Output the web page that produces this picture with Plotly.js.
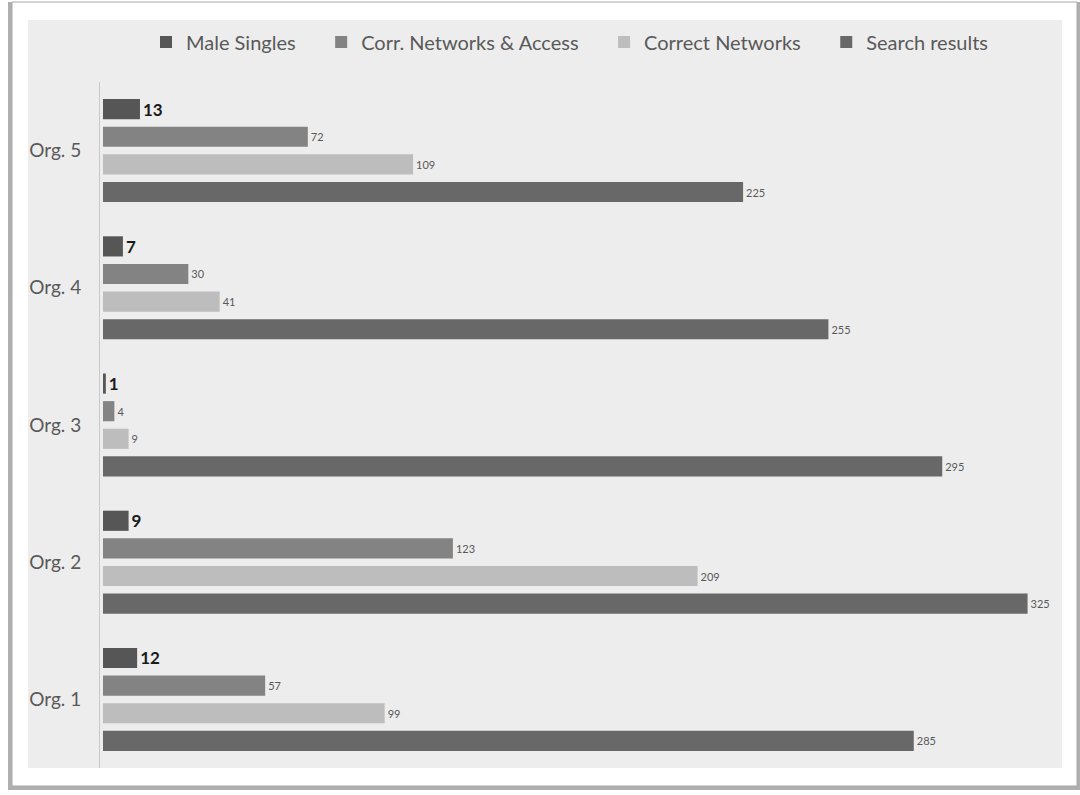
<!DOCTYPE html>
<html>
<head>
<meta charset="utf-8">
<script src="https://cdn.plot.ly/plotly-3.0.1.min.js"></script>
<style>
  html, body { margin: 0; padding: 0; background: #ffffff; }
  #chart { width: 1080px; height: 795px; }
</style>
</head>
<body>
<div id="chart"></div>
<script>
// Organisations, bottom to top on the category axis
const orgs = ['Org. 1', 'Org. 2', 'Org. 3', 'Org. 4', 'Org. 5'];

// Counts per organisation (same order as orgs)
const maleSingles   = [12, 9, 1, 7, 13];
const corrNetAccess = [57, 123, 4, 30, 72];
const correctNets   = [99, 209, 9, 41, 109];
const searchResults = [285, 325, 295, 255, 225];

const seriesNames = ['Male Singles', 'Corr. Networks & Access', 'Correct Networks', 'Search results'];

const FONT = 'Lato, "Open Sans", sans-serif';
const TEXT_GREY = '#595959';
const PAD = '\u00a0\u00a0\u00a0\u00a0';   // extra room between legend entries

function barTrace(name, values, color, labelFont) {
  return {
    type: 'bar',
    orientation: 'h',
    name: name,
    y: orgs,
    x: values,
    text: values.map(String),
    textposition: 'outside',
    textfont: labelFont,
    constraintext: 'none',
    cliponaxis: false,
    marker: { color: color, line: { width: 0 } },
    hoverinfo: 'x+name'
  };
}

const smallLabel = { family: FONT, size: 11, color: TEXT_GREY };
const boldLabel  = { family: FONT, size: 17, color: '#1a1a1a', weight: 'bold' };

// Horizontal groups stack from the bottom, so the series go in reverse order
const data = [
  barTrace(seriesNames[3],       searchResults, '#686868', smallLabel),
  barTrace(seriesNames[2] + PAD, correctNets,   '#bdbdbd', smallLabel),
  barTrace(seriesNames[1] + PAD, corrNetAccess, '#838383', smallLabel),
  barTrace(seriesNames[0] + PAD, maleSingles,   '#565656', boldLabel)
];

// Plot area in pixels: left 100, right 1062, top 82, bottom 768
const PL = 100, PR = 1062, PT = 82, PB = 768;
const W = PR - PL, H = PB - PT;
const px = v => (v - PL) / W;
const py = v => (PB - v) / H;

const layout = {
  width: 1080,
  height: 795,
  margin: { l: PL, r: 1080 - PR, t: PT, b: 795 - PB, pad: 0 },
  paper_bgcolor: '#ffffff',
  plot_bgcolor: 'rgba(0,0,0,0)',
  font: { family: FONT, color: TEXT_GREY },
  barmode: 'group',
  bargap: 0.195,
  bargroupgap: 0.27,
  showlegend: true,
  legend: {
    orientation: 'h',
    traceorder: 'reversed',
    x: px(570), xanchor: 'center',
    y: py(42), yanchor: 'middle',
    font: { family: FONT, size: 20, color: TEXT_GREY },
    itemwidth: 30,
    bgcolor: 'rgba(0,0,0,0)'
  },
  xaxis: {
    range: [-1.05, 337.1],
    visible: false,
    fixedrange: true
  },
  yaxis: {
    showline: true,
    linecolor: '#c9c9c9',
    linewidth: 1,
    showgrid: false,
    zeroline: false,
    ticks: '',
    ticklabelstandoff: 14,
    tickfont: { family: FONT, size: 19, color: TEXT_GREY },
    fixedrange: true
  },
  shapes: [
    // drop shadow of the frame (left and bottom)
    { type: 'rect', xref: 'paper', yref: 'paper', layer: 'below',
      x0: px(8), x1: px(1080), y0: py(790), y1: py(2),
      fillcolor: 'rgba(110,110,110,0.55)', line: { width: 0 } },
    // white frame
    { type: 'rect', xref: 'paper', yref: 'paper', layer: 'below',
      x0: px(12), x1: px(1077), y0: py(786), y1: py(2),
      fillcolor: '#ffffff', line: { color: '#a8a8a8', width: 1 } },
    // light grey chart area
    { type: 'rect', xref: 'paper', yref: 'paper', layer: 'below',
      x0: px(28), x1: px(1062), y0: py(768), y1: py(20),
      fillcolor: '#ededed', line: { width: 0 } }
  ]
};

Plotly.newPlot('chart', data, layout, { displayModeBar: false, staticPlot: true });
</script>
</body>
</html>
